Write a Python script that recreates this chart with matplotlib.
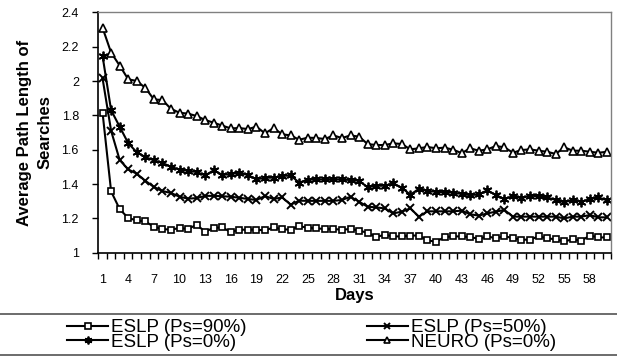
import matplotlib
matplotlib.use('Agg')
import matplotlib.pyplot as plt
from matplotlib.lines import Line2D
from matplotlib.ticker import FixedLocator, NullFormatter

plt.rcParams['font.family'] = ['Liberation Sans', 'DejaVu Sans']

# 天数
days = list(range(1, 61))

# 各曲线数值
eslp90 = [1.815, 1.357, 1.254, 1.202, 1.188, 1.182, 1.151, 1.138, 1.134, 1.144,
          1.138, 1.163, 1.122, 1.145, 1.147, 1.12, 1.134, 1.134, 1.134, 1.13,
          1.147, 1.137, 1.134, 1.155, 1.145, 1.142, 1.138, 1.138, 1.134, 1.138,
          1.129, 1.116, 1.091, 1.105, 1.095, 1.095, 1.1, 1.1, 1.072, 1.064,
          1.091, 1.095, 1.095, 1.091, 1.081, 1.095, 1.084, 1.097, 1.084, 1.076,
          1.076, 1.095, 1.084, 1.078, 1.066, 1.078, 1.07, 1.1, 1.089, 1.089]

eslp50 = [2.015, 1.71, 1.54, 1.485, 1.46, 1.419, 1.383, 1.359, 1.348, 1.326,
          1.315, 1.318, 1.331, 1.331, 1.329, 1.326, 1.32, 1.313, 1.307, 1.33,
          1.313, 1.322, 1.28, 1.303, 1.302, 1.302, 1.302, 1.302, 1.307, 1.326,
          1.297, 1.268, 1.264, 1.258, 1.229, 1.239, 1.258, 1.21, 1.241, 1.241,
          1.241, 1.241, 1.245, 1.224, 1.216, 1.229, 1.239, 1.249, 1.21, 1.21,
          1.21, 1.21, 1.21, 1.21, 1.2, 1.21, 1.21, 1.219, 1.206, 1.206]

eslp0 = [2.145, 1.83, 1.734, 1.638, 1.585, 1.557, 1.538, 1.523, 1.5, 1.484,
         1.477, 1.47, 1.45, 1.48, 1.453, 1.458, 1.466, 1.452, 1.427, 1.437,
         1.437, 1.447, 1.45, 1.408, 1.425, 1.427, 1.427, 1.427, 1.427, 1.423,
         1.419, 1.381, 1.39, 1.39, 1.404, 1.378, 1.338, 1.372, 1.359, 1.355,
         1.352, 1.35, 1.342, 1.335, 1.34, 1.363, 1.336, 1.312, 1.33, 1.317,
         1.333, 1.328, 1.322, 1.307, 1.294, 1.307, 1.297, 1.312, 1.322, 1.305]

neuro = [2.31, 2.165, 2.09, 2.01, 2.0, 1.96, 1.893, 1.889, 1.838, 1.815,
         1.81, 1.796, 1.773, 1.757, 1.74, 1.724, 1.726, 1.72, 1.734, 1.695,
         1.726, 1.69, 1.683, 1.658, 1.67, 1.668, 1.662, 1.683, 1.668, 1.683,
         1.676, 1.633, 1.627, 1.627, 1.637, 1.633, 1.602, 1.608, 1.616, 1.608,
         1.612, 1.6, 1.58, 1.608, 1.594, 1.602, 1.621, 1.614, 1.582, 1.598,
         1.602, 1.594, 1.588, 1.575, 1.614, 1.594, 1.594, 1.588, 1.582, 1.588]

labels = ['ESLP (Ps=90%)', 'ESLP (Ps=50%)', 'ESLP (Ps=0%)', 'NEURO (Ps=0%)']

fig = plt.figure(figsize=(6.17, 3.58), dpi=100)
ax = fig.add_axes([0.1593, 0.2941, 0.8314, 0.6715])

lw = 1.5
l90, = ax.plot(days, eslp90, color='black', lw=lw, marker='s', ms=5, mfc='white', mec='black', mew=1.2, label=labels[0])
l50, = ax.plot(days, eslp50, color='black', lw=lw, marker='x', ms=6, mec='black', mew=1.4, label=labels[1])
l0, = ax.plot(days, eslp0, color='black', lw=lw, marker=(6, 2, 0), ms=7, mec='black', mew=1.3, label=labels[2])
lne, = ax.plot(days, neuro, color='black', lw=lw, marker='^', ms=5.5, mfc='white', mec='black', mew=1.2, label=labels[3])

# 坐标轴
ax.set_xlim(0.5, 60.5)
ax.set_ylim(1, 2.4)
ax.set_yticks([1, 1.2, 1.4, 1.6, 1.8, 2, 2.2, 2.4])
ax.set_yticklabels(['1', '1.2', '1.4', '1.6', '1.8', '2', '2.2', '2.4'])
ax.set_xticks(list(range(1, 59, 3)))
ax.xaxis.set_minor_locator(FixedLocator([i + 0.5 for i in range(0, 61)]))
ax.xaxis.set_minor_formatter(NullFormatter())
ax.tick_params(axis='x', which='major', length=0, pad=15, labelsize=9)
ax.tick_params(axis='x', which='minor', length=4, width=1, direction='out')
ax.tick_params(axis='y', length=4, width=1, direction='out', pad=10, labelsize=9)

for s in ['left', 'bottom']:
    ax.spines[s].set_color('black')
    ax.spines[s].set_linewidth(1.2)
for s in ['top', 'right']:
    ax.spines[s].set_color('#808080')
    ax.spines[s].set_linewidth(1.0)

ax.set_xlabel('Days', fontsize=12, fontweight='bold', labelpad=2)
ax.set_ylabel('Average Path Length of\nSearches', fontsize=12, fontweight='bold', linespacing=1.45)
ax.yaxis.set_label_coords(-0.089, 0.5)

# 图例（按行排列：90% / 50%，0% / NEURO）
handles = [l90, l0, l50, lne]
leg = fig.legend(handles, [h.get_label() for h in handles],
                 loc='center', bbox_to_anchor=(0.505, 0.064), ncol=2, frameon=False,
                 fontsize=13.5, handlelength=2.2, handletextpad=0.15, columnspacing=6.4,
                 labelspacing=-0.15, markerscale=0.8, borderpad=0)

# 图例上下横线
fig.add_artist(Line2D([0, 1], [1 - 314 / 358, 1 - 314 / 358], color='#606060', lw=1.3))
fig.add_artist(Line2D([0, 1], [1 - 355 / 358, 1 - 355 / 358], color='#606060', lw=1.3))

fig.savefig('out.png', dpi=100)
